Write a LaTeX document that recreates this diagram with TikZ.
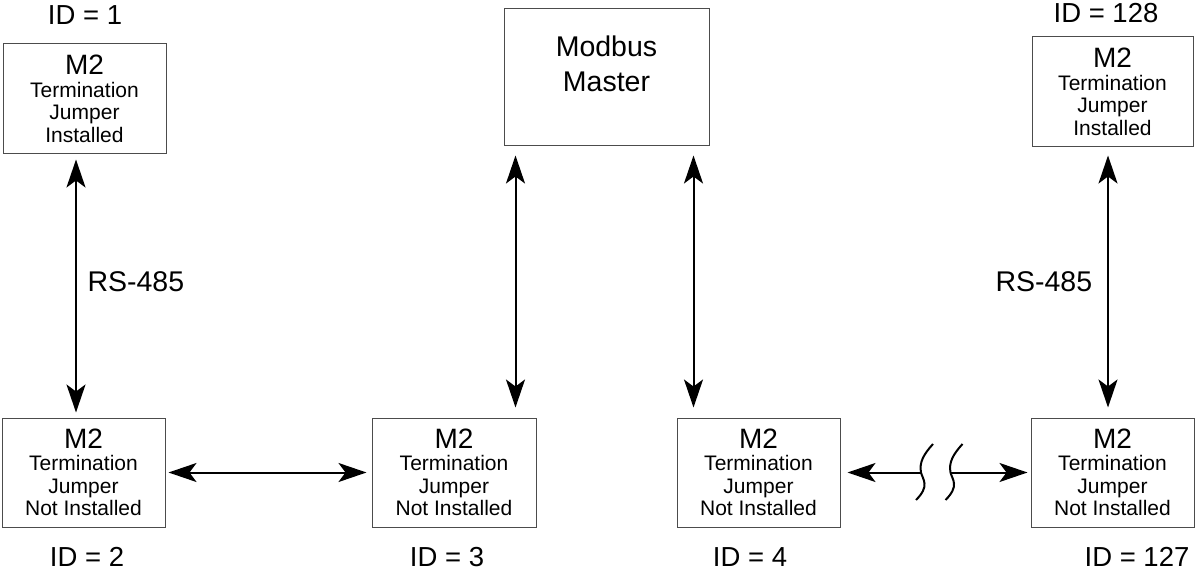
\documentclass[tikz,border=0pt]{standalone}
\usepackage{fontspec}
\setmainfont{Liberation Sans}
\usetikzlibrary{arrows.meta,calc}
\begin{document}
\begin{tikzpicture}[x=1pt,y=-1pt,
  box/.style={draw=black!70, line width=1pt, inner sep=0pt, align=center,
    font=\fontsize{21}{22.5}\selectfont},
  unit/.style={box, minimum width=163, minimum height=109},
  idlbl/.style={anchor=base, font=\fontsize{27.5}{30}\selectfont},
  biglbl/.style={anchor=base, font=\fontsize{28.5}{32}\selectfont},
  arr/.style={line width=2pt, {Stealth[length=28pt,width=19pt,inset=7pt]}-{Stealth[length=28pt,width=19pt,inset=7pt]}},
  arrone/.style={line width=2pt, -{Stealth[length=28pt,width=19pt,inset=7pt]}},
  wave/.style={line width=2pt}
]
\useasboundingbox (0,0) rectangle (1195,572);

% top units
\node[unit, minimum height=110] (id1) at (84.5,99)
  {{\fontsize{28}{28}\selectfont M2}\\Termination\\Jumper\\Installed};
\node[unit, minimum width=161, minimum height=110] (id128) at (1112.5,92)
  {{\fontsize{28}{28}\selectfont M2}\\Termination\\Jumper\\Installed};
\node[box, minimum width=205, minimum height=137] (master) at (606.5,77.5) {};
\node[biglbl] (mt1) at (606.5,57) {Modbus};
\node[biglbl] (mt2) at (606.5,92) {Master};

% bottom units
\node[unit] (id2) at (83.5,472.5)
  {{\fontsize{28}{28}\selectfont M2}\\Termination\\Jumper\\Not Installed};
\node[unit, minimum width=164] (id3) at (454,472.5)
  {{\fontsize{28}{28}\selectfont M2}\\Termination\\Jumper\\Not Installed};
\node[unit] (id4) at (758.5,472.5)
  {{\fontsize{28}{28}\selectfont M2}\\Termination\\Jumper\\Not Installed};
\node[unit] (id127) at (1112.5,472.5)
  {{\fontsize{28}{28}\selectfont M2}\\Termination\\Jumper\\Not Installed};

% ID labels
\node[idlbl] (l1) at (85,25) {ID = 1};
\node[idlbl] (l128) at (1106,23) {ID = 128};
\node[idlbl] (l2) at (87,566) {ID = 2};
\node[idlbl] (l3) at (447,566) {ID = 3};
\node[idlbl] (l4) at (750,566) {ID = 4};
\node[idlbl] (l127) at (1137,566) {ID = 127};

% RS-485 labels
\node[biglbl, anchor=base west] (rs1) at (84,292) {RS-485};
\node[biglbl, anchor=base west] (rs2) at (992,291) {RS-485};

% vertical links
\draw[arr, shorten <=5, shorten >=5] ([xshift=-8.5]id1.south) -- ([xshift=-7.5]id2.north);
\draw[arr, shorten <=8, shorten >=10] ([xshift=-4.5]id128.south) -- ([xshift=-4.5]id127.north);
\draw[arr, shorten <=9, shorten >=10] ([xshift=12]master.south west) -- ([xshift=12]master.south west |- id3.north);
\draw[arr, shorten <=9, shorten >=10] ([xshift=-16]master.south east) -- ([xshift=-16]master.south east |- id4.north);

% horizontal links
\draw[arr, shorten <=3, shorten >=5] (id2.east) -- (id3.west);
\coordinate (bk1) at (921,472.5);
\coordinate (bk2) at (951,472.5);
\draw[arrone, shorten >=7] (bk1) -- (id4.east);
\draw[arrone, shorten >=3] (bk2) -- (id127.west);

% break marks
\foreach \dx in {0,29.5}{
  \draw[wave, xshift=\dx] (933,444) .. controls (924,454) and (919,462) .. (921,472.5)
     .. controls (923,480) and (930,486) .. (916,500);
}
\end{tikzpicture}
\end{document}
